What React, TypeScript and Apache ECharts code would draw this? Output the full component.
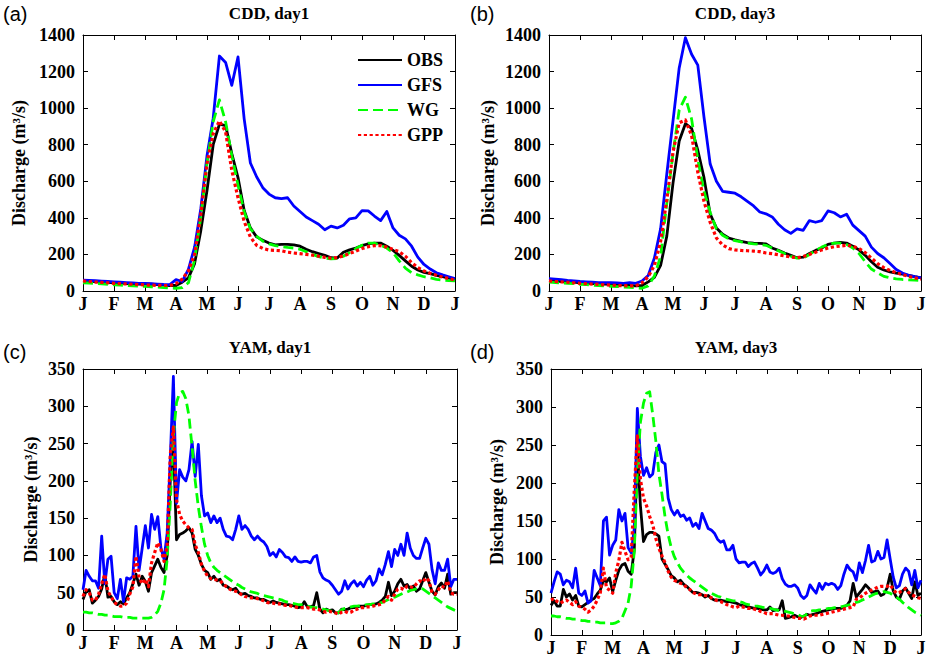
import React, { useEffect, useRef } from "react";
import * as echarts from "echarts";

// ---- axis / category data ----
const MONTH_LABELS = ["J", "F", "M", "A", "M", "J", "J", "A", "S", "O", "N", "D", "J"];
const SERIES_NAMES = ["OBS", "GFS", "WG", "GPP"];
// sampling positions, in months from 1 January
const CDD_MONTHS = Array.from({ length: 61 }, (_, i) => (i * 2) / 10); // every 0.2 month
const YAM_MONTHS = Array.from({ length: 121 }, (_, i) => i / 10); // every 0.1 month

// ---- (a) CDD, day1 (0.2-month steps) ----
const CDD_DAY1_OBS = [55, 53, 51, 49, 47, 45, 43, 41, 39, 38, 37, 38, 35, 32, 30, 30, 48, 72, 150, 330, 550, 800, 912, 905, 752, 620, 440, 345, 296, 278, 262, 252, 255, 255, 252, 245, 228, 215, 205, 195, 182, 180, 212, 225, 235, 248, 258, 262, 262, 245, 222, 195, 165, 135, 115, 102, 95, 86, 78, 70, 63];
const CDD_DAY1_GFS = [60, 58, 56, 54, 52, 50, 48, 46, 44, 42, 42, 40, 38, 36, 35, 62, 52, 118, 240, 450, 740, 945, 1285, 1250, 1125, 1280, 940, 700, 625, 565, 530, 510, 505, 510, 465, 435, 405, 385, 365, 335, 355, 345, 360, 395, 400, 440, 438, 410, 385, 435, 345, 305, 285, 245, 185, 145, 120, 100, 88, 78, 68];
const CDD_DAY1_WG = [45, 43, 41, 39, 36, 34, 32, 30, 28, 27, 25, 23, 21, 19, 17, 15, 18, 45, 170, 405, 697, 925, 1045, 925, 740, 580, 432, 340, 300, 272, 258, 248, 242, 238, 235, 228, 215, 200, 188, 180, 176, 178, 190, 210, 232, 250, 262, 262, 250, 235, 210, 165, 125, 100, 88, 78, 72, 64, 60, 57, 55];
const CDD_DAY1_GPP = [55, 52, 49, 47, 45, 42, 40, 39, 37, 35, 33, 32, 31, 30, 30, 40, 65, 110, 200, 420, 697, 860, 930, 870, 660, 510, 380, 295, 250, 233, 224, 222, 220, 212, 208, 204, 200, 196, 190, 184, 180, 183, 192, 205, 218, 232, 242, 248, 248, 240, 228, 215, 190, 155, 128, 110, 97, 86, 76, 68, 60];

// ---- (b) CDD, day3 (0.2-month steps) ----
const CDD_DAY3_OBS = [58, 55, 52, 50, 48, 45, 43, 41, 40, 38, 37, 35, 33, 30, 28, 30, 50, 75, 140, 300, 590, 820, 915, 890, 770, 620, 420, 345, 310, 290, 280, 272, 265, 262, 260, 258, 235, 222, 208, 195, 182, 185, 205, 222, 235, 255, 262, 266, 262, 245, 225, 195, 160, 130, 115, 105, 98, 92, 85, 78, 72];
const CDD_DAY3_GFS = [68, 65, 62, 58, 55, 52, 50, 48, 46, 45, 45, 44, 42, 46, 42, 55, 85, 180, 340, 640, 930, 1220, 1385, 1295, 1235, 950, 694, 600, 545, 540, 535, 515, 490, 465, 432, 422, 405, 365, 335, 315, 340, 332, 385, 376, 385, 438, 428, 405, 420, 360, 330, 300, 240, 205, 182, 150, 118, 98, 86, 78, 72];
const CDD_DAY3_WG = [48, 46, 44, 42, 40, 37, 35, 32, 30, 28, 26, 24, 22, 20, 17, 15, 28, 82, 190, 480, 752, 990, 1060, 940, 720, 545, 430, 340, 305, 285, 275, 268, 262, 258, 255, 250, 235, 220, 205, 190, 180, 180, 200, 222, 240, 255, 262, 262, 255, 235, 205, 160, 120, 100, 80, 72, 66, 63, 61, 59, 58];
const CDD_DAY3_GPP = [55, 52, 50, 48, 45, 42, 40, 38, 36, 34, 32, 30, 29, 28, 28, 45, 78, 140, 270, 500, 760, 920, 935, 850, 650, 490, 375, 290, 252, 232, 225, 222, 220, 218, 215, 208, 204, 198, 192, 186, 182, 188, 200, 212, 225, 235, 242, 246, 250, 245, 232, 210, 180, 150, 128, 112, 100, 90, 80, 72, 65];

// ---- (c) YAM, day1 (0.1-month steps) ----
const YAM_DAY1_OBS = [
  41, 52, 54, 36, 40, 45, 55, 75, 44, 45, 38, 34, 38, 35, 43, 50, 62, 75, 60, 72,
  65, 52, 77, 86, 95, 84, 77, 100, 200, 255, 121, 128, 130, 133, 137, 130, 108, 100, 88, 80,
  77, 68, 72, 66, 68, 60, 59, 56, 54, 56, 50, 48, 49, 46, 45, 43, 43, 41, 41, 39, 37,
  39, 37, 36, 35, 34, 34, 33, 32, 30, 31, 38, 31, 31, 33, 50, 28, 23, 28, 26, 27,
  23, 23, 28, 27, 28, 30, 30, 31, 32, 32, 33, 34, 34, 35, 37, 40, 45, 64, 46, 52,
  62, 68, 59, 61, 55, 59, 52, 55, 66, 77, 64, 52, 47, 58, 63, 56, 75, 48, 50, 50];
const YAM_DAY1_GFS = [
  54, 80, 72, 66, 66, 56, 126, 62, 95, 99, 50, 42, 68, 38, 70, 68, 72, 139, 80, 110,
  140, 110, 155, 135, 152, 110, 95, 130, 230, 340, 170, 215, 205, 200, 215, 253, 206, 249, 180, 153,
  157, 144, 153, 144, 150, 135, 126, 125, 121, 135, 153, 135, 140, 135, 126, 121, 126, 121, 118, 112, 100,
  104, 98, 108, 104, 98, 97, 92, 98, 92, 91, 92, 92, 90, 98, 100, 78, 70, 67, 65, 60,
  54, 48, 52, 66, 55, 62, 66, 59, 64, 58, 67, 72, 60, 66, 82, 74, 88, 105, 85, 108,
  100, 115, 100, 130, 110, 100, 96, 96, 110, 123, 115, 81, 62, 90, 80, 80, 95, 58, 68, 68];
const YAM_DAY1_WG = [
  24, 24, 23, 23, 22, 21, 21, 20, 20, 19, 18, 18, 18, 17, 17, 17, 16, 16, 16, 16,
  16, 16, 17, 20, 25, 36, 54, 95, 170, 260, 305, 318, 320, 310, 287, 245, 200, 165, 138, 115,
  100, 90, 84, 80, 77, 74, 71, 68, 65, 62, 60, 57, 55, 53, 51, 50, 49, 47, 46, 45, 44,
  43, 42, 41, 40, 38, 37, 36, 35, 34, 34, 33, 32, 31, 30, 30, 29, 28, 27, 26, 25,
  24, 23, 27, 29, 30, 31, 32, 32, 33, 33, 34, 34, 35, 35, 36, 37, 39, 41, 43, 44,
  46, 48, 50, 51, 53, 54, 55, 56, 55, 52, 49, 46, 43, 40, 37, 34, 31, 29, 27, 25];
const YAM_DAY1_GPP = [
  45, 54, 50, 40, 40, 48, 62, 75, 52, 45, 37, 34, 32, 32, 36, 48, 58, 99, 70, 62,
  68, 58, 90, 104, 117, 108, 92, 112, 235, 272, 175, 155, 146, 141, 137, 135, 114, 104, 88, 79,
  72, 69, 68, 67, 66, 62, 58, 55, 53, 52, 50, 47, 45, 44, 43, 43, 42, 41, 39, 37, 36,
  36, 35, 35, 34, 33, 33, 32, 31, 30, 30, 30, 30, 29, 28, 28, 27, 25, 24, 25, 24,
  23, 21, 24, 25, 23, 24, 27, 28, 30, 30, 31, 31, 32, 33, 34, 35, 41, 45, 40, 48,
  55, 56, 54, 59, 58, 57, 62, 66, 64, 70, 66, 50, 48, 54, 59, 57, 66, 50, 48, 48];

// ---- (d) YAM, day3 (0.1-month steps) ----
const YAM_DAY3_OBS = [
  39, 45, 38, 38, 60, 50, 54, 46, 52, 38, 37, 40, 43, 46, 48, 54, 59, 72, 70, 75,
  57, 72, 85, 92, 94, 84, 80, 112, 245, 170, 123, 132, 135, 135, 133, 130, 100, 93, 86, 78,
  75, 70, 72, 67, 64, 60, 56, 56, 55, 53, 50, 52, 48, 46, 46, 46, 45, 44, 44, 43, 42,
  40, 39, 38, 37, 36, 35, 35, 34, 33, 33, 37, 32, 33, 33, 45, 22, 23, 24, 26, 24,
  23, 25, 27, 26, 27, 28, 30, 31, 32, 33, 34, 35, 35, 35, 37, 39, 45, 68, 50, 55,
  60, 66, 62, 56, 57, 58, 52, 54, 62, 80, 58, 50, 47, 58, 62, 55, 48, 70, 52, 55];
const YAM_DAY3_GFS = [
  55, 70, 83, 80, 66, 72, 70, 62, 88, 55, 52, 58, 42, 45, 85, 75, 65, 150, 155, 105,
  118, 125, 165, 150, 160, 115, 108, 140, 298, 235, 210, 220, 208, 212, 240, 250, 228, 225, 180, 165,
  158, 164, 156, 158, 151, 154, 143, 147, 140, 160, 150, 140, 138, 134, 126, 122, 124, 112, 112, 118, 100,
  95, 96, 96, 90, 94, 96, 88, 79, 84, 92, 83, 81, 83, 88, 74, 67, 64, 64, 66, 62,
  52, 48, 52, 66, 60, 55, 68, 60, 68, 66, 68, 66, 60, 65, 80, 92, 86, 83, 72, 95,
  82, 98, 118, 96, 98, 110, 100, 102, 125, 100, 76, 62, 65, 80, 88, 84, 66, 85, 62, 72];
const YAM_DAY3_WG = [
  25, 25, 24, 24, 23, 22, 22, 21, 21, 20, 19, 19, 18, 18, 17, 17, 16, 16, 16, 15,
  15, 16, 18, 22, 32, 42, 64, 110, 215, 280, 305, 318, 320, 290, 255, 212, 185, 155, 132, 115,
  103, 95, 88, 83, 79, 75, 72, 69, 66, 63, 60, 57, 55, 53, 51, 50, 48, 47, 46, 45, 45,
  44, 43, 41, 40, 39, 38, 38, 37, 36, 35, 35, 34, 33, 32, 32, 31, 30, 29, 28, 27,
  25, 24, 28, 31, 32, 32, 33, 33, 34, 35, 35, 36, 36, 37, 38, 39, 40, 42, 43, 44,
  46, 48, 50, 52, 54, 55, 56, 57, 56, 55, 52, 50, 47, 43, 40, 36, 33, 30, 28, 26];
const YAM_DAY3_GPP = [
  46, 48, 44, 42, 44, 46, 43, 40, 44, 38, 36, 34, 30, 33, 38, 46, 56, 88, 62, 59,
  55, 82, 98, 122, 110, 99, 102, 190, 262, 205, 180, 170, 156, 145, 127, 114, 104, 95, 84, 76,
  72, 70, 68, 67, 62, 60, 56, 54, 53, 53, 52, 51, 49, 47, 45, 44, 42, 40, 39, 37, 36,
  38, 37, 36, 35, 35, 34, 33, 31, 30, 28, 28, 28, 27, 26, 26, 25, 25, 24, 23, 22,
  22, 21, 23, 25, 26, 26, 26, 27, 28, 29, 30, 31, 32, 33, 34, 35, 36, 37, 47, 48,
  52, 55, 57, 59, 61, 63, 64, 64, 64, 66, 60, 55, 56, 59, 61, 56, 53, 51, 49, 48];

const SERIF = "Liberation Serif";
const SANS = "Liberation Sans";

const LINE_STYLES = [
  { color: "#000000", width: 2.8, type: "solid" },
  { color: "#0000ff", width: 2.8, type: "solid" },
  { color: "#00ff00", width: 2.8, type: [10, 5] },
  { color: "#ff0000", width: 3.2, type: [3.2, 2.6] },
];

const PANELS = [
  { title: "CDD, day1", tag: "(a)", max: 1400, interval: 200, months: CDD_MONTHS, values: [CDD_DAY1_OBS, CDD_DAY1_GFS, CDD_DAY1_WG, CDD_DAY1_GPP], grid: { left: 83, top: 35, width: 372, height: 256 }, nameGap: 55, tagX: 3, tagY: 4 },
  { title: "CDD, day3", tag: "(b)", max: 1400, interval: 200, months: CDD_MONTHS, values: [CDD_DAY3_OBS, CDD_DAY3_GFS, CDD_DAY3_WG, CDD_DAY3_GPP], grid: { left: 549, top: 35, width: 372, height: 256 }, nameGap: 52, tagX: 470, tagY: 4 },
  { title: "YAM, day1", tag: "(c)", max: 350, interval: 50, months: YAM_MONTHS, values: [YAM_DAY1_OBS, YAM_DAY1_GFS, YAM_DAY1_WG, YAM_DAY1_GPP], grid: { left: 83, top: 369, width: 374, height: 261 }, nameGap: 43, tagX: 3, tagY: 342 },
  { title: "YAM, day3", tag: "(d)", max: 350, interval: 50, months: YAM_MONTHS, values: [YAM_DAY3_OBS, YAM_DAY3_GFS, YAM_DAY3_WG, YAM_DAY3_GPP], grid: { left: 551, top: 369, width: 370, height: 266 }, nameGap: 45, tagX: 470, tagY: 342 },
];

function buildOption() {
  const grid: any[] = [];
  const xAxis: any[] = [];
  const yAxis: any[] = [];
  const series: any[] = [];
  const graphic: any[] = [];

  const tickStyle = { inside: true, length: 5, lineStyle: { color: "#000", width: 1 } };
  const lineStyle = { show: true, onZero: false, lineStyle: { color: "#000", width: 1 } };
  const labelFont = { color: "#000", fontFamily: SERIF, fontWeight: "bold" as const, fontSize: 18 };

  PANELS.forEach((p, gi) => {
    grid.push({ ...p.grid, containLabel: false, outerBoundsMode: "none" });
    xAxis.push({
      gridIndex: gi, type: "value", position: "bottom", min: 0, max: 12, interval: 1,
      axisLine: lineStyle, axisTick: tickStyle, splitLine: { show: false },
      axisLabel: { ...labelFont, margin: 4, formatter: (v: number) => MONTH_LABELS[Math.round(v)] },
    });
    xAxis.push({
      gridIndex: gi, type: "value", position: "top", min: 0, max: 12, interval: 1,
      axisLine: lineStyle, axisTick: tickStyle, splitLine: { show: false }, axisLabel: { show: false },
    });
    yAxis.push({
      gridIndex: gi, type: "value", position: "left", min: 0, max: p.max, interval: p.interval,
      axisLine: lineStyle, axisTick: tickStyle, splitLine: { show: false },
      axisLabel: { ...labelFont, margin: 8, formatter: (v: number) => String(v) },
      name: "Discharge (m³/s)", nameLocation: "middle", nameGap: p.nameGap,
      nameTextStyle: { color: "#000", fontFamily: SERIF, fontWeight: "bold", fontSize: 18 },
    });
    yAxis.push({
      gridIndex: gi, type: "value", position: "right", min: 0, max: p.max, interval: p.interval,
      axisLine: lineStyle, axisTick: tickStyle, splitLine: { show: false }, axisLabel: { show: false },
    });
    p.values.forEach((vals, si) => {
      series.push({
        name: SERIES_NAMES[si], type: "line", xAxisIndex: gi * 2, yAxisIndex: gi * 2,
        symbol: "none", showSymbol: false, smooth: false, z: 2 + si,
        lineStyle: { ...LINE_STYLES[si], cap: "butt", join: "round" },
        itemStyle: { color: LINE_STYLES[si].color },
        data: p.months.map((m, i) => [m, vals[i]]),
      });
    });
    const cx = p.grid.left + p.grid.width / 2;
    graphic.push({
      type: "text", x: cx, y: p.grid.top - 22,
      style: { text: p.title, fill: "#000", fontFamily: SERIF, fontWeight: "bold", fontSize: 17, align: "center", textAlign: "center", verticalAlign: "middle", textVerticalAlign: "middle" },
    });
    graphic.push({
      type: "text", x: p.tagX, y: p.tagY,
      style: { text: p.tag, fill: "#000", fontFamily: SANS, fontSize: 20, align: "left", verticalAlign: "top" },
    });
  });

  return {
    animation: false,
    backgroundColor: "#ffffff",
    textStyle: { fontFamily: SERIF, color: "#000" },
    grid, xAxis, yAxis, series, graphic,
    legend: {
      data: SERIES_NAMES, orient: "vertical", left: 352, top: 46,
      itemWidth: 44, itemHeight: 14, itemGap: 7, selectedMode: false,
      itemStyle: { opacity: 0, borderWidth: 0 },
      textStyle: { color: "#000", fontFamily: SERIF, fontWeight: "bold", fontSize: 18, lineHeight: 18 },
    },
  };
}

export default function App() {
  const ref = useRef<HTMLDivElement>(null);
  useEffect(() => {
    if (!ref.current) return;
    const chart = echarts.init(ref.current, undefined, { renderer: "svg" });
    chart.setOption(buildOption() as any);
    return () => chart.dispose();
  }, []);
  return (
    <div
      ref={ref}
      style={{ position: "absolute", left: 0, top: 0, width: 930, height: 659, background: "#fff" }}
    />
  );
}
